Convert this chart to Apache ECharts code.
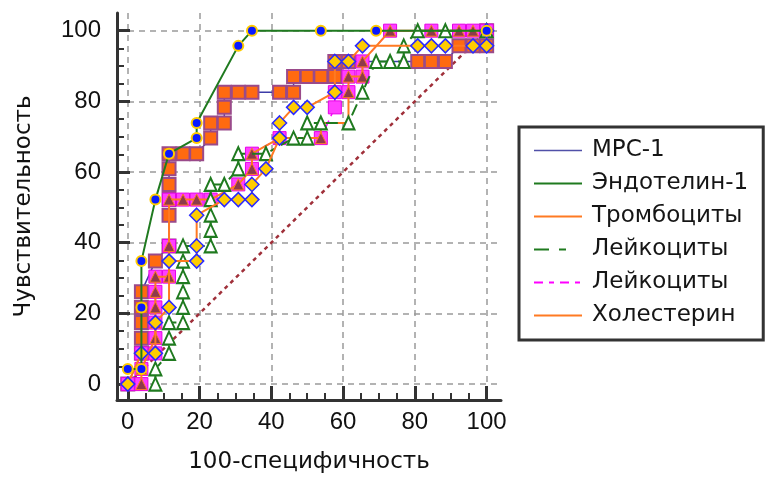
<!DOCTYPE html>
<html><head><meta charset="utf-8">
<script src="https://cdn.jsdelivr.net/npm/echarts@6/dist/echarts.min.js"></script>
<style>html,body{margin:0;padding:0;background:#fff;}#c{width:771px;height:477px;}</style>
</head><body><div id="c"></div>
<script>
// ---- tick labels ----
const majorTicks = [0, 20, 40, 60, 80, 100];
const minorTicks = [5, 10, 15, 25, 30, 35, 45, 50, 55, 65, 70, 75, 85, 90, 95];

// ---- series names (legend order) ----
const seriesNames = ['МРС-1', 'Эндотелин-1', 'Тромбоциты', 'Лейкоциты', 'Лейкоциты ', 'Холестерин'];

// ---- МРС-1 ----
const mpcX = [0, 3.8, 3.8, 3.8, 3.8, 3.8, 7.7, 11.5, 11.5, 11.5, 11.5, 11.5, 11.5, 15.4, 19.2, 23.1, 23.1, 26.9, 26.9, 26.9, 30.8, 34.6, 42.3, 46.2, 46.2, 50, 53.8, 57.7, 57.7, 61.5, 80.8, 84.6, 88.5, 92.3, 96.2, 100, 100];
const mpcY = [0, 8.7, 13, 17.4, 21.7, 26.1, 34.8, 39.1, 47.8, 52.2, 56.5, 60.9, 65.2, 65.2, 65.2, 69.6, 73.9, 73.9, 78.3, 82.6, 82.6, 82.6, 82.6, 82.6, 87, 87, 87, 87, 91.3, 91.3, 91.3, 91.3, 91.3, 95.7, 95.7, 95.7, 100];

// ---- Эндотелин-1 ----
const endoX = [0, 3.8, 3.8, 3.8, 7.7, 11.5, 19.2, 19.2, 30.8, 34.6, 53.8, 69.2, 100];
const endoY = [4.3, 4.3, 21.7, 34.8, 52.2, 65.2, 69.6, 73.9, 95.7, 100, 100, 100, 100];

// ---- Тромбоциты ----
const tromX = [0, 3.8, 7.7, 7.7, 11.5, 11.5, 19.2, 19.2, 19.2, 26.9, 30.8, 34.6, 34.6, 38.5, 42.3, 42.3, 46.2, 50, 57.7, 57.7, 61.5, 65.4, 80.8, 84.6, 88.5, 96.2, 100, 100];
const tromY = [0, 8.7, 8.7, 17.4, 21.7, 34.8, 34.8, 39.1, 47.8, 52.2, 52.2, 52.2, 56.5, 60.9, 69.6, 73.9, 78.3, 78.3, 82.6, 91.3, 91.3, 95.7, 95.7, 95.7, 95.7, 95.7, 95.7, 100];

// ---- Лейкоциты (green) ----
const leu1X = [7.7, 7.7, 11.5, 11.5, 11.5, 15.4, 15.4, 15.4, 15.4, 15.4, 15.4, 23.1, 23.1, 23.1, 23.1, 23.1, 26.9, 30.8, 30.8, 38.5, 46.2, 50, 50, 53.8, 61.5, 65.4, 69.2, 73.1, 76.9, 76.9, 80.8, 88.5, 100];
const leu1Y = [0, 4.3, 8.7, 13, 17.4, 17.4, 21.7, 26.1, 30.4, 34.8, 39.1, 39.1, 43.5, 47.8, 52.2, 56.5, 56.5, 60.9, 65.2, 65.2, 69.6, 69.6, 73.9, 73.9, 73.9, 82.6, 91.3, 91.3, 91.3, 95.7, 100, 100, 100];

// ---- Лейкоциты (magenta) ----
const leu2X = [0, 3.8, 3.8, 3.8, 7.7, 7.7, 7.7, 7.7, 7.7, 7.7, 11.5, 11.5, 11.5, 15.4, 19.2, 23.1, 30.8, 34.6, 34.6, 42.3, 53.8, 57.7, 57.7, 61.5, 61.5, 65.4, 65.4, 73.1, 84.6, 92.3, 96.2, 100];
const leu2Y = [0, 0, 4.3, 8.7, 8.7, 13, 17.4, 21.7, 26.1, 30.4, 30.4, 39.1, 52.2, 52.2, 52.2, 52.2, 56.5, 60.9, 65.2, 69.6, 69.6, 78.3, 82.6, 82.6, 87, 87, 91.3, 100, 100, 100, 100, 100];

// ---- Холестерин ----
const cholX = [3.8, 3.8, 7.7, 7.7, 7.7, 7.7, 7.7, 11.5, 11.5, 11.5, 15.4, 19.2, 23.1, 30.8, 34.6, 34.6, 42.3, 53.8, 53.8, 61.5, 61.5, 61.5, 65.4, 65.4, 73.1, 84.6, 92.3, 96.2, 100];
const cholY = [0, 4.3, 13, 17.4, 21.7, 26.1, 30.4, 30.4, 39.1, 52.2, 52.2, 52.2, 52.2, 56.5, 60.9, 65.2, 69.6, 69.6, 73.9, 73.9, 82.6, 87, 87, 91.3, 100, 100, 100, 100, 100];

// ---- reference diagonal ----
const diagX = [0, 100];
const diagY = [0, 100];

const zip = (xs, ys) => xs.map((x, i) => [x, ys[i]]);

const C = {
  mpc: '#3c3ca8', endo: '#1f7a1f', trom: '#ff7a22', leu1: '#1f7a1f', leu2: '#ff00ff', chol: '#ff7a22', diag: '#a0303a'
};
const DASH_G = [12, 7, 5, 7];
const DASH_M = [7, 5];

function lineSeries(name, xs, ys, lineStyle, sym, z) {
  return {
    type: 'line', name: name, data: zip(xs, ys),
    xAxisIndex: 0, yAxisIndex: 0,
    lineStyle: lineStyle,
    symbol: sym.symbol, symbolSize: sym.size, itemStyle: sym.style,
    showAllSymbol: true, animation: false, z: z,
    emphasis: { disabled: true }
  };
}

const chart = echarts.init(document.getElementById('c'), null, { renderer: 'canvas' });

const axisCommonX = { type: 'value', min: -3, max: 104 };
const axisCommonY = { type: 'value', min: -4.5, max: 105 };
const labelFont = { fontFamily: 'Liberation Sans', fontSize: 24, color: '#111' };
const nameFont = { fontFamily: 'DejaVu Sans', fontSize: 23, color: '#111' };

chart.setOption({
  animation: false,
  backgroundColor: '#fff',
  grid: { left: 117, right: 270, top: 13, bottom: 77, containLabel: false, outerBoundsMode: 'none' },
  xAxis: [
    Object.assign({}, axisCommonX, {
      position: 'bottom',
      name: '100-специфичность', nameLocation: 'middle', nameGap: 51,
      nameTextStyle: nameFont,
      axisLine: { show: true, onZero: false, lineStyle: { color: '#333', width: 3 } },
      axisTick: { show: true, inside: true, length: 14, customValues: majorTicks, lineStyle: { color: '#333', width: 3 } },
      axisLabel: Object.assign({ show: true, margin: 10, customValues: majorTicks }, labelFont),
      splitLine: { show: true, lineStyle: { color: '#9a9a9a', width: 1.5, type: [6, 5] } }
    }),
    Object.assign({}, axisCommonX, {
      position: 'bottom', offset: 0,
      axisLine: { show: false, onZero: false },
      axisTick: { show: true, inside: true, length: 7, customValues: minorTicks, lineStyle: { color: '#333', width: 2 } },
      axisLabel: { show: false },
      splitLine: { show: false }
    })
  ],
  yAxis: [
    Object.assign({}, axisCommonY, {
      position: 'left',
      name: 'Чувствительность', nameLocation: 'middle', nameGap: 81,
      nameTextStyle: nameFont,
      axisLine: { show: true, onZero: false, lineStyle: { color: '#333', width: 3 } },
      axisTick: { show: true, inside: true, length: 13, customValues: majorTicks, lineStyle: { color: '#333', width: 3 } },
      axisLabel: Object.assign({ show: true, margin: 16, customValues: majorTicks }, labelFont),
      splitLine: { show: true, lineStyle: { color: '#9a9a9a', width: 1.5, type: [6, 5] } }
    }),
    Object.assign({}, axisCommonY, {
      position: 'left', offset: 0,
      axisLine: { show: false, onZero: false },
      axisTick: { show: true, inside: true, length: 7, customValues: minorTicks, lineStyle: { color: '#333', width: 2 } },
      axisLabel: { show: false },
      splitLine: { show: false }
    })
  ],
  legend: {
    orient: 'vertical', left: 519, top: 127,
    backgroundColor: '#fff', borderColor: '#333', borderWidth: 3, borderRadius: 0,
    padding: [12, 15, 13, 14],
    itemWidth: 48, itemHeight: 14, itemGap: 10,
    selectedMode: false,
    formatter: function (n) { return n.trim(); },
    itemStyle: { opacity: 0 },
    textStyle: { fontFamily: 'DejaVu Sans', fontSize: 23, color: '#151515', lineHeight: 23, padding: [0, 0, 0, 5] },
    data: [
      { name: seriesNames[0], lineStyle: { color: '#5050a8', width: 1.5, type: 'solid' } },
      { name: seriesNames[1], lineStyle: { color: C.endo, width: 2, type: 'solid' } },
      { name: seriesNames[2], lineStyle: { color: C.trom, width: 2, type: 'solid' } },
      { name: seriesNames[3], lineStyle: { color: C.leu1, width: 2, type: [15, 10, 7, 20] } },
      { name: seriesNames[4], lineStyle: { color: C.leu2, width: 2, type: [9, 6, 5, 6] } },
      { name: seriesNames[5], lineStyle: { color: C.chol, width: 2, type: 'solid' } }
    ]
  },
  series: [
    {
      type: 'line', name: 'diag', data: zip(diagX, diagY), symbol: 'none', silent: true,
      lineStyle: { color: C.diag, width: 2.5, type: [4, 4] }, z: 1, animation: false
    },
    lineSeries(seriesNames[0], mpcX, mpcY, { color: C.mpc, width: 1.5 },
      { symbol: 'rect', size: 13, style: { color: '#ff6a10', borderColor: '#9a4a8a', borderWidth: 2 } }, 2),
    lineSeries(seriesNames[4], leu2X, leu2Y, { color: C.leu2, width: 1.5, type: DASH_M },
      { symbol: 'rect', size: 13, style: { color: '#ff40ff', borderColor: '#e600e6', borderWidth: 1 } }, 3),
    lineSeries(seriesNames[5], cholX, cholY, { color: C.chol, width: 2 },
      { symbol: 'triangle', size: [11, 11], style: { color: '#8e3a4a', borderColor: '#ff7a22', borderWidth: 1 } }, 4),
    lineSeries(seriesNames[3], leu1X, leu1Y, { color: C.leu1, width: 2, type: DASH_G },
      { symbol: 'triangle', size: [12, 13], style: { color: '#ffffff', borderColor: '#1f7a1f', borderWidth: 2 } }, 5),
    lineSeries(seriesNames[2], tromX, tromY, { color: C.trom, width: 2 },
      { symbol: 'diamond', size: [14, 14], style: { color: '#ffcc00', borderColor: '#2a2aff', borderWidth: 1.5 } }, 6),
    lineSeries(seriesNames[1], endoX, endoY, { color: C.endo, width: 2 },
      { symbol: 'circle', size: 10, style: { color: '#0a1aff', borderColor: '#ffcc00', borderWidth: 2 } }, 7)
  ]
});
</script>
</body></html>
